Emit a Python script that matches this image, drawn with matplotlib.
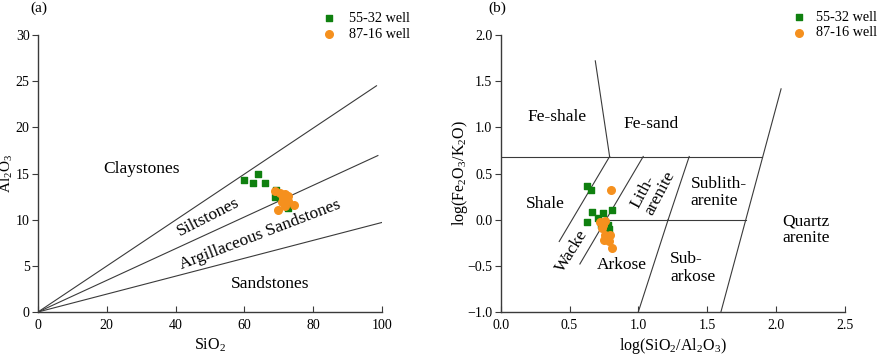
import numpy as np
import matplotlib.pyplot as plt

plt.rcParams['font.family'] = ['Liberation Serif', 'DejaVu Serif']
plt.rcParams['mathtext.default'] = 'regular'

GREEN = '#0f800f'
ORANGE = '#f5901e'
LINE = '#3a3a3a'

# (a) SiO2 vs Al2O3
a_sq_x = [60.0, 62.5, 63.9, 66.0, 69.2, 68.9, 72.7]
a_sq_y = [14.3, 14.0, 15.0, 14.0, 13.25, 12.5, 11.25]
a_ci_x = [68.8, 70.3, 71.9, 72.7, 71.2, 72.7, 74.4, 69.8, 71.9, 70.8]
a_ci_y = [13.13, 12.88, 12.8, 12.6, 12.34, 11.97, 11.6, 11.07, 11.5, 11.86]
a_slopes = [0.249, 0.1715, 0.097]
a_line_end = [98.4, 98.8, 100.0]

# (b) log(SiO2/Al2O3) vs log(Fe2O3/K2O)
b_sq_x = [0.624, 0.653, 0.66, 0.740, 0.805, 0.629, 0.708, 0.726, 0.781, 0.788]
b_sq_y = [0.367, 0.324, 0.078, 0.071, 0.107, -0.02, 0.017, -0.055, -0.055, -0.10]
b_ci_x = [0.798, 0.721, 0.745, 0.757, 0.733, 0.757, 0.793, 0.769, 0.788, 0.805, 0.750]
b_ci_y = [0.324, -0.03, -0.055, -0.01, -0.091, -0.163, -0.163, -0.21, -0.236, -0.307, -0.217]

# boundary segments (x0, y0, x1, y1)
b_segments = [
    (0.0, 0.684, 1.894, 0.684),
    (0.687, 1.72, 0.791, 0.684),
    (0.791, 0.684, 0.425, -0.236),
    (1.035, 0.684, 0.575, -0.48),
    (1.369, 0.684, 1.216, 0.0),
    (1.216, 0.0, 0.999, -1.0),
    (0.765, 0.0, 1.778, 0.0),
    (2.036, 1.417, 1.599, -1.0),
]

W, H = 879, 355
fig = plt.figure(figsize=(8.79, 3.55), dpi=100)
ax1 = fig.add_axes([0.0432, 0.1211, 0.3914, 0.7803])
ax2 = fig.add_axes([0.5696, 0.1211, 0.3917, 0.7803])


def style_axes(ax):
    for s in ['top', 'right']:
        ax.spines[s].set_visible(False)
    for s in ['left', 'bottom']:
        ax.spines[s].set_color(LINE)
        ax.spines[s].set_linewidth(1.0)
    ax.tick_params(axis='x', direction='in', length=4, color=LINE, labelsize=10, pad=5)
    ax.tick_params(axis='y', direction='out', length=4, color=LINE, labelsize=10, pad=2)


def place_labels(ax, xl, yl):
    ax.xaxis.label.set_va('center')
    ax.yaxis.label.set_va('center')
    ax.xaxis.set_label_coords(0.5, xl, transform=ax.transAxes)
    ax.yaxis.set_label_coords(yl, 0.5, transform=ax.transAxes)


# panel a
for k, xe in zip(a_slopes, a_line_end):
    ax1.plot([0, xe], [0, k * xe], color=LINE, lw=0.8)
ax1.scatter(a_sq_x, a_sq_y, marker='s', s=22, color=GREEN, zorder=3, label='55-32 well')
ax1.scatter(a_ci_x, a_ci_y, marker='o', s=30, color=ORANGE, zorder=4, label='87-16 well')
ax1.set_xlim(0, 100)
ax1.set_ylim(0, 30)
ax1.set_xticks([0, 20, 40, 60, 80, 100])
ax1.set_yticks([0, 5, 10, 15, 20, 25, 30])
style_axes(ax1)
ax1.set_xlabel('SiO$_2$', fontsize=11.5)
ax1.set_ylabel('Al$_2$O$_3$', fontsize=11)
place_labels(ax1, -0.1215, -0.089)
ax1.text(30.1, 15.5, 'Claystones', fontsize=12.5, ha='center', va='center')
ax1.text(49.4, 10.3, 'Siltstones', fontsize=12.5, ha='center', va='center', rotation=27)
ax1.text(64.6, 8.4, 'Argillaceous Sandstones', fontsize=12.5, ha='center', va='center', rotation=21)
ax1.text(67.5, 3.0, 'Sandstones', fontsize=12.5, ha='center', va='center')
ax1.legend(loc='upper left', bbox_to_anchor=(321.7 / W, 1 - 12.0 / H), bbox_transform=fig.transFigure,
           frameon=False, fontsize=10.3, handletextpad=0.9, labelspacing=0.2,
           borderaxespad=0, borderpad=0, handlelength=1.0)
fig.text(39 / W, 1 - 8 / H, '(a)', fontsize=11, ha='center', va='center')

# panel b
for x0, y0, x1, y1 in b_segments:
    ax2.plot([x0, x1], [y0, y1], color=LINE, lw=0.8)
ax2.scatter(b_sq_x, b_sq_y, marker='s', s=22, color=GREEN, zorder=3, label='55-32 well')
ax2.scatter(b_ci_x, b_ci_y, marker='o', s=30, color=ORANGE, zorder=4, label='87-16 well')
ax2.set_xlim(0, 2.5)
ax2.set_ylim(-1.0, 2.0)
ax2.set_xticks([0.0, 0.5, 1.0, 1.5, 2.0, 2.5])
ax2.set_yticks([-1.0, -0.5, 0.0, 0.5, 1.0, 1.5, 2.0])
ax2.xaxis.set_major_formatter(plt.FormatStrFormatter('%.1f'))
ax2.yaxis.set_major_formatter(plt.FuncFormatter(lambda v, p: ('\u2212%.1f' % -v) if v < 0 else '%.1f' % v))
style_axes(ax2)
ax2.set_xlabel('log(SiO$_2$/Al$_2$O$_3$)', fontsize=11.5)
ax2.set_ylabel('log(Fe$_2$O$_3$/K$_2$O)', fontsize=11.5)
place_labels(ax2, -0.1215, -0.118)
ax2.text(0.411, 1.117, 'Fe-shale', fontsize=12.5, ha='center', va='center')
ax2.text(1.089, 1.038, 'Fe-sand', fontsize=12.5, ha='center', va='center')
ax2.text(0.321, 0.172, 'Shale', fontsize=12.5, ha='center', va='center')
ax2.text(0.515, -0.344, 'Wacke', fontsize=12.5, ha='center', va='center', rotation=58)
ax2.text(1.107, 0.324, 'Lith-\narenite', fontsize=12.5, ha='center', va='center', rotation=62,
         multialignment='left', linespacing=1.0)
ax2.text(1.379, 0.295, 'Sublith-\narenite', fontsize=12.5, ha='left', va='center',
         multialignment='left', linespacing=1.1)
ax2.text(2.216, -0.109, 'Quartz\narenite', fontsize=12.5, ha='center', va='center',
         multialignment='center', linespacing=1.1)
ax2.text(0.878, -0.488, 'Arkose', fontsize=12.5, ha='center', va='center')
ax2.text(1.229, -0.524, 'Sub-\narkose', fontsize=12.5, ha='left', va='center',
         multialignment='left', linespacing=1.1)
ax2.legend(loc='upper left', bbox_to_anchor=(792 / W, 1 - 10.5 / H), bbox_transform=fig.transFigure,
           frameon=False, fontsize=10.3, handletextpad=0.69, labelspacing=0.2,
           borderaxespad=0, borderpad=0, handlelength=1.0)
fig.text(497 / W, 1 - 8 / H, '(b)', fontsize=11, ha='center', va='center')

fig.savefig('out.png', dpi=100)
